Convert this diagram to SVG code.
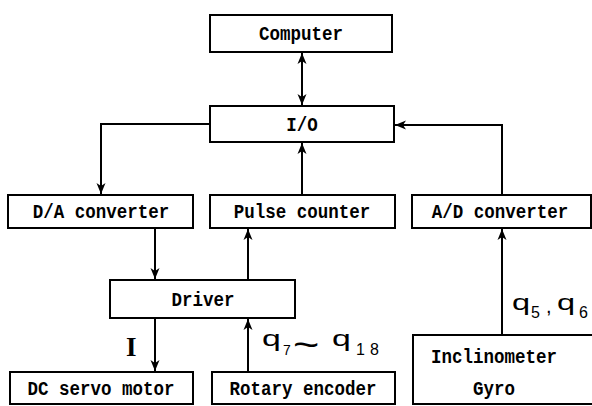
<svg xmlns="http://www.w3.org/2000/svg" width="592" height="406" viewBox="0 0 592 406">
<style>
.box{fill:#fff;stroke:#000;stroke-width:2}
.lbl{font-family:"Liberation Mono","DejaVu Sans Mono",monospace;font-size:17.5px;font-weight:bold;text-anchor:middle;fill:#000;transform-box:fill-box;transform-origin:center;transform:scaleY(1.2)}
.ln{fill:none;stroke:#000;stroke-width:2}
.q{font-family:"Liberation Sans","DejaVu Sans",sans-serif;fill:#000}
</style>
<defs>
<marker id="ah" markerWidth="12" markerHeight="10" refX="11" refY="5" orient="auto" markerUnits="userSpaceOnUse">
<path d="M0,0.5 L11,5 L0,9.5 L3,5 Z" fill="#000"/>
</marker>
<marker id="ahs" markerWidth="12" markerHeight="10" refX="1" refY="5" orient="auto" markerUnits="userSpaceOnUse">
<path d="M12,0.5 L1,5 L12,9.5 L9,5 Z" fill="#000"/>
</marker>
</defs>
<rect width="592" height="406" fill="#fff"/>
<g id="connectors">
<path class="ln" d="M302,53 L302,105" marker-start="url(#ahs)" marker-end="url(#ah)"/>
<path class="ln" d="M210,124 L101,124 L101,194" marker-end="url(#ah)"/>
<path class="ln" d="M302,195 L302,143" marker-end="url(#ah)"/>
<path class="ln" d="M502,195 L502,125 L395,125" marker-end="url(#ah)"/>
<path class="ln" d="M155,229 L155,279" marker-end="url(#ah)"/>
<path class="ln" d="M248,280 L248,229" marker-end="url(#ah)"/>
<path class="ln" d="M155,318 L155,371" marker-end="url(#ah)"/>
<path class="ln" d="M248,372 L248,319" marker-end="url(#ah)"/>
<path class="ln" d="M502,335 L502,229" marker-end="url(#ah)"/>
<text x="126" y="356" font-family="Liberation Serif,serif" font-size="27" font-weight="bold" fill="#000">I</text>
<text class="q" font-size="26" transform="translate(262,346) scale(1.3,0.85)">q</text>
<text class="q" x="283" y="355" font-size="14">7</text>
<text class="q" font-size="36" transform="translate(293,357) scale(1.25,1)">~</text>
<text class="q" font-size="26" transform="translate(332,346) scale(1.3,0.85)">q</text>
<text class="q" x="356" y="355" font-size="16">1</text>
<text class="q" x="370" y="355" font-size="16">8</text>
<text class="q" font-size="26" transform="translate(512,310) scale(1.25,0.85)">q</text>
<text class="q" x="531" y="318" font-size="16">5</text>
<text class="q" x="546" y="313" font-size="20">,</text>
<text class="q" font-size="26" transform="translate(557,310) scale(1.25,0.85)">q</text>
<text class="q" x="579" y="318" font-size="16">6</text>
</g>
<g id="computer"><rect class="box" x="210" y="15" width="182" height="37"/><text class="lbl" x="301" y="39">Computer</text></g>
<g id="io"><rect class="box" x="210" y="106" width="184" height="36"/><text class="lbl" x="302" y="130">I/O</text></g>
<g id="da"><rect class="box" x="8" y="195" width="185" height="33"/><text class="lbl" x="101" y="217">D/A converter</text></g>
<g id="pulse"><rect class="box" x="210" y="195" width="185" height="33"/><text class="lbl" x="302" y="217">Pulse counter</text></g>
<g id="ad"><rect class="box" x="412" y="195" width="179" height="33"/><text class="lbl" x="500" y="217">A/D converter</text></g>
<g id="driver"><rect class="box" x="110" y="280" width="185" height="38"/><text class="lbl" x="203" y="305">Driver</text></g>
<g id="dc"><rect class="box" x="10" y="372" width="183" height="32"/><text class="lbl" x="101" y="394">DC servo motor</text></g>
<g id="rotary"><rect class="box" x="212" y="372" width="183" height="32"/><text class="lbl" x="303" y="394">Rotary encoder</text></g>
<g id="incl"><rect class="box" x="413" y="335" width="190" height="69"/><text class="lbl" x="494" y="362">Inclinometer</text><text class="lbl" x="494" y="394">Gyro</text></g>
</svg>
